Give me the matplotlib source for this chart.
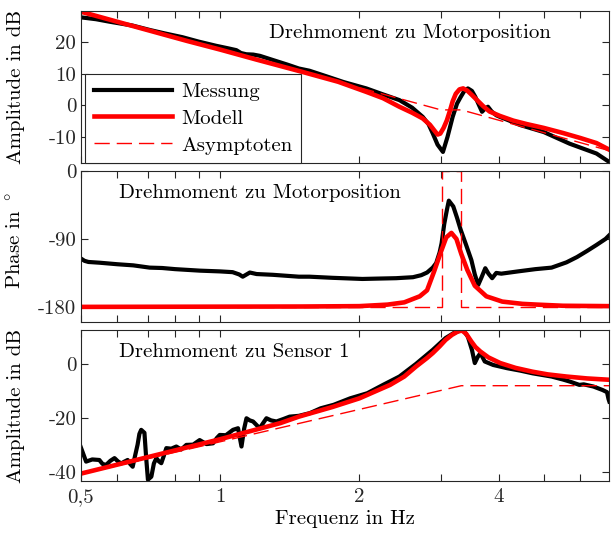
import numpy as np
import matplotlib.pyplot as plt
from matplotlib.ticker import NullLocator

plt.rcParams['font.family'] = ['cmr10', 'DejaVu Serif']
plt.rcParams['mathtext.fontset'] = 'cm'
plt.rcParams['axes.unicode_minus'] = False
plt.rcParams['font.size'] = 15

### Daten
## Amplitude Drehmoment -> Motorposition
f_mess_amp1 = [0.5, 0.54, 0.578, 0.647, 0.705, 0.76, 0.83, 0.9, 0.98, 1.04, 1.085, 1.11, 1.14,
               1.18, 1.22, 1.3, 1.4, 1.48, 1.56, 1.7, 1.85, 2.07, 2.25, 2.44, 2.6, 2.74, 2.82,
               2.88, 2.95, 3.03, 3.1, 3.18, 3.25, 3.31, 3.37, 3.43, 3.5, 3.56, 3.62, 3.68,
               3.73, 3.79, 3.86, 3.95, 4.02, 4.2, 4.45, 5.0, 5.69, 6.5, 6.93]
db_mess_amp1 = [27.8, 27.2, 26.4, 25.2, 23.8, 22.7, 21.5, 20.1, 18.8, 18.0, 17.4, 16.5, 16.1,
                16.0, 15.6, 14.3, 12.8, 11.6, 10.9, 9.1, 7.3, 5.3, 3.4, 1.6, -0.8, -3.7, -6.0,
                -8.9, -12.5, -14.8, -10.0, -3.7, 0.5, 2.6, 4.5, 5.3, 4.5, 2.6, 0.2, -2.1,
                -1.2, -0.5, -2.0, -3.2, -3.7, -4.8, -6.3, -8.5, -12.2, -15.3, -18.0]

f_mod_amp1 = [0.5, 0.6, 0.7, 0.85, 1.0, 1.2, 1.5, 1.8, 2.07, 2.25, 2.44, 2.6, 2.74, 2.84,
              2.91, 2.95, 2.99, 3.04, 3.09, 3.14, 3.18, 3.23, 3.29, 3.35, 3.42, 3.5, 3.59,
              3.7, 3.82, 4.02, 4.3, 4.6, 5.0, 5.5, 6.0, 6.5, 6.93]
db_mod_amp1 = [29.6, 26.4, 23.7, 20.3, 17.6, 14.4, 10.6, 7.4, 4.2, 2.2, -0.5, -2.4, -4.2, -6.2,
               -8.2, -9.3, -9.0, -7.2, -4.8, -1.6, 1.2, 3.6, 5.0, 5.3, 4.6, 3.2, 1.6,
               -0.3, -2.0, -3.4, -4.9, -6.0, -7.2, -8.8, -10.4, -12.0, -14.1]

f_asym_amp1 = [0.5, 3.0, 3.32, 6.93]
db_asym_amp1 = [29.6, -1.5, -1.5, -14.4]

## Phase Drehmoment -> Motorposition
f_mess_ph = [0.5, 0.51, 0.52, 0.55, 0.6, 0.65, 0.705, 0.75, 0.8, 0.905, 1.0, 1.065, 1.1, 1.12,
             1.16, 1.2, 1.3, 1.48, 1.56, 1.75, 2.03, 2.2, 2.4, 2.61, 2.72, 2.8, 2.88, 2.93,
             2.98, 3.01, 3.05, 3.09, 3.12, 3.19, 3.25, 3.31, 3.4, 3.49, 3.55, 3.61, 3.67,
             3.74, 3.8, 3.87, 3.95, 4.05, 4.4, 4.8, 5.2, 5.6, 5.9, 6.2, 6.5, 6.8, 6.93]
deg_mess_ph = [-115.6, -119, -120.5, -121.5, -123.5, -125, -128, -128.5, -130, -132, -133, -134,
               -137, -140, -134.5, -136.5, -137.5, -140, -140, -141.5, -143, -142.5, -142,
               -140.7, -138, -134.5, -128, -122, -108, -95.7, -70, -51.6, -39.3, -47, -62,
               -78, -98, -118, -137, -151, -141, -128.8, -136, -142, -135, -136, -133, -130,
               -128, -121, -114, -106, -98, -90, -85]

f_mod_ph = [0.5, 1.5, 2.0, 2.3, 2.5, 2.7, 2.8, 2.9, 3.0, 3.08, 3.16, 3.24, 3.32, 3.42, 3.55,
            3.76, 4.07, 4.5, 4.84, 5.5, 6.93]
deg_mod_ph = [-180, -179.5, -179, -177, -174, -166, -158, -133, -107, -88, -82, -90, -110, -131,
              -152, -166, -173, -176, -177, -178.5, -179]

f_asym_ph = [0.5, 3.01, 3.01, 3.32, 3.32, 6.93]
deg_asym_ph = [-180, -180, 0, 0, -180, -180]

## Amplitude Drehmoment -> Sensor 1
f_mess_amp2 = [0.5, 0.507, 0.514, 0.53, 0.549, 0.558, 0.568, 0.58, 0.592, 0.602, 0.612, 0.622,
               0.632, 0.64, 0.648, 0.656, 0.664, 0.67, 0.676, 0.687, 0.693, 0.699, 0.711, 0.72,
               0.729, 0.738, 0.747, 0.757, 0.766, 0.785, 0.805, 0.825, 0.846, 0.875, 0.904,
               0.935, 0.966, 0.985, 0.999, 1.03, 1.067, 1.094, 1.113, 1.128, 1.141, 1.16,
               1.179, 1.218, 1.26, 1.29, 1.324, 1.37, 1.414, 1.48, 1.563, 1.65, 1.76, 1.91,
               2.08, 2.25, 2.44, 2.65, 2.88, 3.07, 3.2, 3.29, 3.36, 3.43, 3.5, 3.55, 3.6, 3.65,
               3.73, 3.89, 4.17, 4.45, 4.73, 5.2, 5.5, 5.7, 5.97, 6.1, 6.4, 6.7, 6.85, 6.9, 6.93]
db_mess_amp2 = [-30.7, -33.5, -36.3, -35.5, -35.7, -37.2, -37.5, -36.0, -35.0, -36.2, -37.0, -36.3,
                -35.7, -37.2, -38.2, -34.0, -30.0, -26.0, -24.5, -25.6, -35.0, -43.0, -41.9, -37.0,
                -35.0, -36.2, -36.9, -34.0, -31.3, -31.5, -30.7, -31.8, -30.1, -30.0, -28.3,
                -29.8, -29.5, -27.5, -26.4, -26.5, -24.5, -23.9, -30.7, -24.0, -20.2, -21.0,
                -21.4, -23.9, -20.2, -21.0, -21.4, -20.5, -19.6, -19.3, -18.3, -16.5, -15.2, -12.8,
                -10.9, -7.8, -4.7, 0.0, 5.2, 9.6, 11.5, 12.3, 12.3, 10.1, 5.2, 0.3, 2.5, 4.0,
                0.9, -0.4, -1.6, -2.5, -3.5, -4.7, -5.8, -6.6, -7.8, -7.6, -8.4, -9.7, -10.5, -13.0, -14.0]

f_mod_amp2 = [0.5, 0.7, 1.0, 1.35, 1.48, 1.75, 2.0, 2.33, 2.5, 2.65, 2.8, 2.88, 2.98, 3.07, 3.17,
              3.26, 3.33, 3.4, 3.49, 3.56, 3.65, 3.8, 4.03, 4.35, 4.73, 5.1, 5.6, 6.2, 6.93]
db_mod_amp2 = [-40.8, -34.6, -28.0, -22.0, -19.6, -16.0, -12.8, -7.8, -4.7, -1.0, 2.2, 4.0, 6.5,
               8.9, 10.8, 12.0, 12.4, 11.2, 8.3, 6.3, 4.6, 2.4, 0.3, -1.5, -2.9, -3.9, -4.7,
               -5.4, -5.9]

f_asym_amp2 = [0.5, 3.32, 6.93]
db_asym_amp2 = [-41.0, -8.1, -8.1]

### Plot
achsenfarbe = '#262626'
xticks = [0.5, 0.6, 0.7, 0.8, 0.9, 1, 2, 3, 4, 5, 6]
xticklabels = ['0,5', '', '', '', '', '1', '2', '', '4', '', '']

fig = plt.figure(figsize=(6.11, 5.33), dpi=100)
ax1 = fig.add_axes([0.1318, 0.6942, 0.8655, 0.2852])
ax2 = fig.add_axes([0.1318, 0.3959, 0.8655, 0.2833])
ax3 = fig.add_axes([0.1318, 0.0976, 0.8655, 0.2833])

kw_mess = dict(color='black', lw=3.0, solid_joinstyle='round')
kw_mod = dict(color='red', lw=3.3, solid_joinstyle='round')
kw_asym = dict(color='red', lw=1.0, dashes=(11, 5))

ax1.plot(f_mess_amp1, db_mess_amp1, label='Messung', **kw_mess)
ax1.plot(f_mod_amp1, db_mod_amp1, label='Modell', **kw_mod)
ax1.plot(f_asym_amp1, db_asym_amp1, label='Asymptoten', **kw_asym)

ax2.plot(f_mess_ph, deg_mess_ph, **kw_mess)
ax2.plot(f_mod_ph, deg_mod_ph, **kw_mod)
ax2.plot(f_asym_ph, deg_asym_ph, **kw_asym)

ax3.plot(f_mess_amp2, db_mess_amp2, **kw_mess)
ax3.plot(f_mod_amp2, db_mod_amp2, **kw_mod)
ax3.plot(f_asym_amp2, db_asym_amp2, **kw_asym)

ax1.set_ylim(-18.3, 29.8)
ax1.set_yticks([-10, 0, 10, 20])
ax1.set_yticklabels(['-10', '0', '10', '20'])
ax2.set_ylim(-200, 0)
ax2.set_yticks([-180, -90, 0])
ax2.set_yticklabels(['-180', '-90', '0'])
ax3.set_ylim(-43.5, 12.6)
ax3.set_yticks([-40, -20, 0])
ax3.set_yticklabels(['-40', '-20', '0'])

for ax in (ax1, ax2, ax3):
    ax.set_xscale('log')
    ax.set_xlim(0.5, 6.93)
    ax.set_xticks(xticks)
    ax.xaxis.set_minor_locator(NullLocator())
    ax.set_xticklabels(xticklabels if ax is ax3 else [''] * len(xticks))
    ax.tick_params(direction='in', top=True, right=True, length=5, width=0.8,
                   colors=achsenfarbe, labelcolor='#262626', labelsize=15, pad=3)
    ax.tick_params(axis='x', pad=5)
    for s in ax.spines.values():
        s.set_color(achsenfarbe)
        s.set_linewidth(0.8)

ax1.text(0.357, 0.855, 'Drehmoment zu Motorposition', transform=ax1.transAxes, va='center', ha='left')
ax2.text(0.072, 0.854, 'Drehmoment zu Motorposition', transform=ax2.transAxes, va='center', ha='left')
ax3.text(0.072, 0.854, 'Drehmoment zu Sensor 1', transform=ax3.transAxes, va='center', ha='left')

ax1.set_ylabel('Amplitude in dB')
ax2.set_ylabel(r'Phase in $^\circ$')
ax3.set_ylabel('Amplitude in dB')
ax3.set_xlabel('Frequenz in Hz')
ax1.yaxis.set_label_coords(-0.105, 0.5)
ax2.yaxis.set_label_coords(-0.105, 0.54)
ax3.yaxis.set_label_coords(-0.105, 0.5)
ax3.xaxis.set_label_coords(0.5, -0.19)

leg = ax1.legend(loc='lower left', bbox_to_anchor=(0.009, 0.0), borderaxespad=0, fancybox=False,
                 framealpha=1, edgecolor=achsenfarbe, handlelength=3.75, handletextpad=0.45,
                 labelspacing=0.4, borderpad=0.4, fontsize=15)
leg.get_frame().set_linewidth(0.8)

fig.savefig('out.png', dpi=100)
